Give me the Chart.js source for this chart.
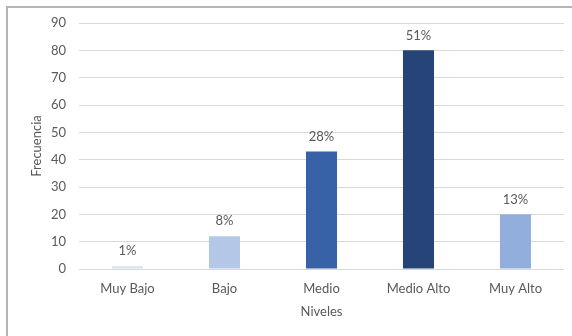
<!DOCTYPE html>
<html lang="es">
<head>
<meta charset="utf-8">
<title>Niveles</title>
<script src="https://cdn.jsdelivr.net/npm/chart.js@4/dist/chart.umd.min.js"></script>
<style>
    html, body { margin: 0; padding: 0; background: #fff; overflow: hidden; }
    #marco {
        position: absolute; left: 6px; top: 6px; width: 620px; height: 400px;
        border-left: 2px solid #b4b4b4; border-top: 2px solid #b4b4b4;
    }
    #grafico { position: absolute; left: 0; top: 0; }
</style>
</head>
<body>
<div id="marco"></div>
<canvas id="grafico" width="572" height="336"></canvas>
<script>
// Datos de frecuencia por nivel
const niveles = ["Muy Bajo", "Bajo", "Medio", "Medio Alto", "Muy Alto"];
const frecuencia = [1, 12, 43, 80, 20];
const ejeY = { min: 0, max: 90, paso: 10 };

const colores = ["#dae3f3", "#b4c7e7", "#3762a8", "#264478", "#92aedd"];
const textoGris = "#595959";
const fuente = "Lato, 'Open Sans', sans-serif";

const total = frecuencia.reduce((a, b) => a + b, 0);

// Porcentaje encima de cada barra
const etiquetasPct = {
    id: "etiquetasPct",
    afterDatasetsDraw(chart) {
        const { ctx } = chart;
        const meta = chart.getDatasetMeta(0);
        ctx.save();
        ctx.font = "13px " + fuente;
        ctx.fillStyle = textoGris;
        ctx.textAlign = "center";
        ctx.textBaseline = "middle";
        meta.data.forEach((barra, i) => {
            const pct = Math.round((frecuencia[i] / total) * 100) + "%";
            ctx.fillText(pct, barra.x, barra.y - 15);
        });
        ctx.restore();
    },
};

new Chart(document.getElementById("grafico"), {
    type: "bar",
    data: {
        labels: niveles,
        datasets: [
            {
                label: "Frecuencia",
                data: frecuencia,
                backgroundColor: colores,
                categoryPercentage: 1,
                barPercentage: 0.32,
            },
        ],
    },
    options: {
        responsive: false,
        animation: false,
        layout: { padding: { top: 23, right: 8, left: 0, bottom: 0 } },
        plugins: {
            legend: { display: false },
            tooltip: { enabled: false },
        },
        scales: {
            x: {
                grid: { display: false },
                border: { display: false },
                ticks: {
                    color: textoGris,
                    font: { family: fuente, size: 13 },
                    padding: 4,
                },
                title: {
                    display: true,
                    text: "Niveles",
                    color: textoGris,
                    font: { family: fuente, size: 13 },
                    padding: { top: 0, bottom: 16 },
                },
                afterFit(scale) {
                    scale.height = 67;
                },
            },
            y: {
                min: ejeY.min,
                max: ejeY.max,
                grid: { color: "#d9d9d9", drawTicks: false },
                border: { display: false },
                ticks: {
                    stepSize: ejeY.paso,
                    color: textoGris,
                    font: { family: fuente, size: 13 },
                    padding: 13,
                },
                title: {
                    display: true,
                    text: "Frecuencia",
                    color: textoGris,
                    font: { family: fuente, size: 13 },
                    padding: { top: 29, bottom: 0 },
                },
                afterFit(scale) {
                    scale.width = 79;
                },
            },
        },
    },
    plugins: [etiquetasPct],
});
</script>
</body>
</html>
